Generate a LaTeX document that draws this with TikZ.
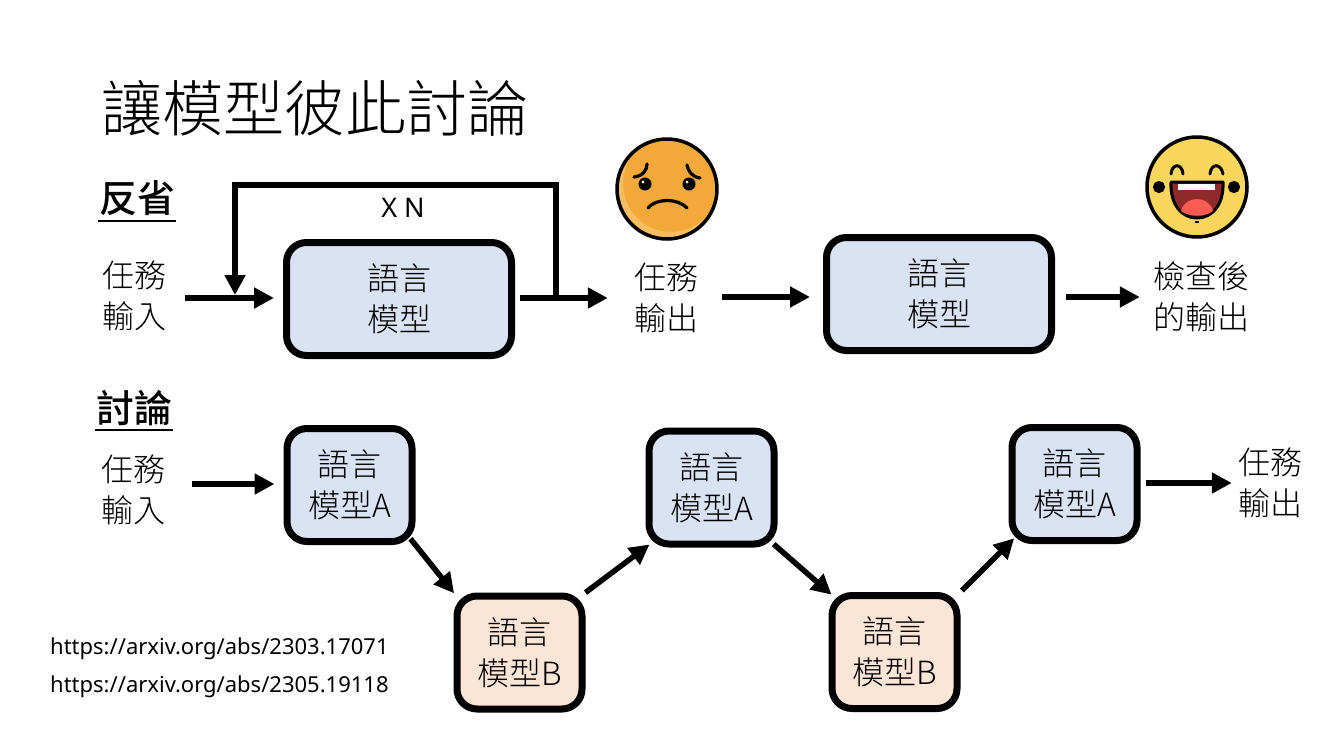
\documentclass[tikz,border=0pt]{standalone}
\usepackage{fontspec}
\setmainfont{Noto Sans CJK TC Light}
\newfontfamily\headfont{Noto Sans CJK TC Medium}
\newfontfamily\latinfont{Noto Sans}
\usetikzlibrary{arrows.meta}
\definecolor{bluefill}{HTML}{DAE3F3}
\definecolor{orangefill}{HTML}{FBE5D6}
\definecolor{sadface}{HTML}{F3A93A}
\definecolor{sadlight}{HTML}{F6BD62}
\definecolor{happyface}{HTML}{FBD65C}
\definecolor{mouthdark}{HTML}{8E2A2A}
\definecolor{tongue}{HTML}{FB5B52}
\definecolor{cheek}{HTML}{C98666}
\tikzset{
  model/.style={draw=black,line width=7pt,rounded corners=20pt,align=center,
    font=\fontsize{32}{41}\selectfont,inner sep=0pt},
  bigbox/.style={model,fill=bluefill,minimum width=225pt,minimum height=113pt},
  boxa/.style={model,fill=bluefill,minimum width=125pt,minimum height=113pt},
  boxb/.style={model,fill=orangefill,minimum width=125pt,minimum height=113pt},
  lbl/.style={align=center,font=\fontsize{32}{41}\selectfont,inner sep=0pt},
  head/.style={font=\headfont\fontsize{38}{44}\selectfont,inner sep=0pt},
  url/.style={anchor=west,font=\latinfont\fontsize{22}{24}\selectfont,inner sep=0pt},
  arr/.style={line width=5.5pt,-{Triangle[length=20pt,width=20pt]}},
  fback/.style={line width=5.5pt},
  ink/.style={line width=3pt,line cap=round,black}
}
\begin{document}
\begin{tikzpicture}[x=1pt,y=-1pt]
\useasboundingbox (0,0) rectangle (1334,750);
% title
\node[inner sep=0pt,font=\fontsize{61}{66}\selectfont] (title) at (315,108) {讓模型彼此討論};
% section heads
\node[head] (h1) at (137,198) {反省};
\draw[line width=2.5pt] (98,221) -- (176,221);
\node[head] (h2) at (134,408) {討論};
\draw[line width=2.5pt] (95,430) -- (173,430);
% top row
\node[lbl] (in1) at (134,296) {任務\\輸入};
\node[bigbox] (m1) at (399,299) {語言\\模型};
\node[lbl] (out1) at (666,298) {任務\\輸出};
\node[bigbox] (m2) at (939,294) {語言\\模型};
\node[lbl] (out2) at (1201,297) {檢查後\\的輸出};
\node[inner sep=0pt,font=\latinfont\fontsize{27}{30}\selectfont] (xn) at (403,208) {X N};
\draw[arr,shorten >=9pt,shorten <=19pt] (in1.east|-0,298) coordinate (i1s) -- (m1.west|-i1s);
\draw[arr,shorten <=5pt,shorten >=26pt] (m1.east|-0,298) coordinate (o1s) -- (out1.west|-o1s);
\draw[arr,shorten <=24pt,shorten >=13pt] (out1.east|-0,297) coordinate (o2s) -- (m2.west|-o2s);
\draw[arr,shorten <=11pt,shorten >=13pt] (m2.east|-0,297) coordinate (o3s) -- (out2.west|-o3s);
\coordinate (fb1) at (556,298);
\coordinate (fb2) at (556,185);
\coordinate (fb3) at (235,185);
\coordinate (fb4) at (235,295);
\draw[fback,-{Triangle[length=20pt,width=20pt]}] (fb1) -- (fb2) -- (fb3) -- (fb4);
% bottom row
\node[lbl] (in2) at (133,490) {任務\\輸入};
\node[boxa] (a1) at (349.5,485) {語言\\模型A};
\node[boxb] (b1) at (519.5,652.5) {語言\\模型B};
\node[boxa] (a2) at (711.5,487.5) {語言\\模型A};
\node[boxb] (b2) at (894.5,652) {語言\\模型B};
\node[boxa] (a3) at (1074.5,484) {語言\\模型A};
\node[lbl] (out3) at (1270,483) {任務\\輸出};
\draw[arr,shorten <=27pt,shorten >=9pt] (in2.east|-0,484) coordinate (l1s) -- (a1.west|-l1s);
\draw[arr,shorten <=5pt,shorten >=6pt] (a3.east|-0,483) coordinate (l2s) -- (out3.west|-l2s);
\draw[arr,shorten <=-8pt,shorten >=-1pt] (a1.south east) -- (b1.north west);
\draw[arr,shorten <=0pt,shorten >=-5pt] (b1.north east) -- (a2.south west);
\draw[arr,shorten <=-5pt,shorten >=-4pt] (a2.south east) -- (b2.north west);
\draw[arr,shorten <=2pt,shorten >=-8pt] (b2.north east) -- (a3.south west);
% urls
\node[url] (u1) at (50,649) {https://arxiv.org/abs/2303.17071};
\node[url] (u2) at (50,687) {https://arxiv.org/abs/2305.19118};
% sad face
\fill[sadface] (667,189) circle (50);
\begin{scope}
\clip (667,189) circle (48);
\fill[sadlight,even odd rule] (667,189) circle (48) (671,184) circle (48);
\end{scope}
\draw[line width=3.5pt] (667,189) circle (50);
\draw[ink,line width=3.2pt] (634,177) .. controls (643,176) and (647,170) .. (647,164);
\draw[ink,line width=3.2pt] (700,178) .. controls (692,177) and (688,171) .. (687,165);
\fill (645,184) circle (6.5);
\fill (689,184) circle (6.5);
\fill[white] (643,182) circle (1.6);
\fill[white] (687,182) circle (1.6);
\draw[ink,line width=3.2pt] (648,208) .. controls (656,198) and (678,198) .. (687,208);
% happy face
\fill[happyface,draw=black,line width=3.5pt] (1197,187) circle (50);
\draw[ink] (1171,174) .. controls (1172,163) and (1182,163) .. (1183,174);
\draw[ink] (1210,174) .. controls (1211,163) and (1221,163) .. (1223,174);
\fill[mouthdark,draw=black,line width=3pt,line join=round] (1171,182) -- (1223,182) .. controls (1224,205) and (1212,218) .. (1197,218) .. controls (1182,218) and (1170,205) .. (1171,182) -- cycle;
\fill[white] (1178,184) rectangle (1215,190);
\fill[tongue] (1181,211) .. controls (1185,195) and (1209,195) .. (1213,211) .. controls (1206,217) and (1188,217) .. (1181,211) -- cycle;
\draw[line width=3pt,fill=cheek,black] (1159,187) circle (4.5);
\draw[line width=3pt,fill=cheek,black] (1234,187) circle (4.5);
\draw[line width=2pt,black] (1195,222) -- (1199,222);
\end{tikzpicture}
\end{document}
